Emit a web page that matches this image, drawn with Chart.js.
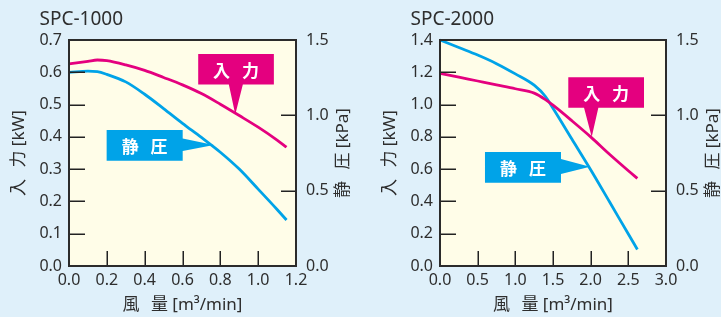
<!DOCTYPE html>
<html><head><meta charset="utf-8">
<script src="https://cdn.jsdelivr.net/npm/chart.js@4"></script>
<style>
html,body{margin:0;padding:0;background:#dff0fa;width:721px;height:317px;overflow:hidden;}
canvas{position:absolute;top:0;}
</style></head><body>
<canvas id="c1" width="360" height="317" style="left:0"></canvas>
<canvas id="c2" width="361" height="317" style="left:360px"></canvas>
<script>
// ---- SPC-1000 ----
const spc1Flow     = [0, 0.1, 0.15, 0.2, 0.3, 0.4, 0.5, 0.6, 0.7, 0.8, 0.9, 1.0, 1.1, 1.15];
const spc1Power    = [0.626, 0.634, 0.638, 0.636, 0.623, 0.606, 0.584, 0.561, 0.534, 0.501, 0.466, 0.430, 0.390, 0.368];
const spc1Pressure = [1.285, 1.293, 1.290, 1.272, 1.222, 1.140, 1.045, 0.947, 0.853, 0.755, 0.643, 0.510, 0.375, 0.305];
// ---- SPC-2000 ----
const spc2Flow     = [0, 0.25, 0.5, 0.75, 1.0, 1.25, 1.4, 1.5, 1.75, 2.0, 2.25, 2.5, 2.62];
const spc2Power    = [1.194, 1.170, 1.146, 1.122, 1.098, 1.071, 1.031, 0.996, 0.900, 0.800, 0.692, 0.590, 0.543];
const spc2Pressure = [1.500, 1.450, 1.400, 1.343, 1.275, 1.200, 1.125, 1.047, 0.843, 0.639, 0.426, 0.212, 0.110];

const titles = ['SPC-1000', 'SPC-2000'];
const powerLabel = '入\u2002\u2009力 [kW]';
const pressureLabel = '静\u2002\u2009圧 [kPa]';
const flowLabel = '風\u2002\u2009量 [m³/min]';
const powerName = '入\u2002\u2009力';
const pressureName = '静\u2002\u2009圧';

const MAGENTA = '#e4007f';
const CYAN = '#00a3e8';
const TXT = '#2e2e2e';
const FONT = "'Noto Sans', 'Noto Sans CJK JP', sans-serif";
const CJK = "'Noto Sans CJK JP', 'Noto Sans', sans-serif";

function pts(xs, ys){ return xs.map((x,i)=>({x:x, y:ys[i]})); }

const decor = {
  id: 'decor',
  beforeDraw(chart, args, o){
    const {ctx, chartArea:a} = chart;
    ctx.save();
    ctx.fillStyle = '#fffde8';
    ctx.fillRect(a.left, a.top, a.right-a.left, a.bottom-a.top);
    ctx.restore();
  },
  afterDatasetsDraw(chart, args, o){
    const ctx = chart.ctx, sx = chart.scales.x;
    (o.notes||[]).forEach(n=>{
      const sy = chart.scales[n.axis];
      const L = sx.getPixelForValue(n.x0), R = sx.getPixelForValue(n.x1);
      const T = sy.getPixelForValue(n.y0), B = sy.getPixelForValue(n.y1);
      const tx = sx.getPixelForValue(n.tip[0]), ty = sy.getPixelForValue(n.tip[1]);
      ctx.save();
      ctx.fillStyle = n.color;
      ctx.beginPath();
      if (n.pointer === 'down') {
        const b0 = sx.getPixelForValue(n.base[0]), b1 = sx.getPixelForValue(n.base[1]);
        ctx.moveTo(L,T); ctx.lineTo(R,T); ctx.lineTo(R,B); ctx.lineTo(b1,B);
        ctx.lineTo(tx,ty); ctx.lineTo(b0,B); ctx.lineTo(L,B);
      } else {
        const b0 = sy.getPixelForValue(n.base[0]), b1 = sy.getPixelForValue(n.base[1]);
        ctx.moveTo(L,T); ctx.lineTo(R,T); ctx.lineTo(R,b0); ctx.lineTo(tx,ty);
        ctx.lineTo(R,b1); ctx.lineTo(R,B); ctx.lineTo(L,B);
      }
      ctx.closePath(); ctx.fill();
      ctx.fillStyle = '#ffffff';
      ctx.font = "bold 17px " + CJK;
      ctx.textAlign = 'center'; ctx.textBaseline = 'middle';
      ctx.fillText(n.text, (L+R)/2, (T+B)/2+1);
      ctx.restore();
    });
  },
  afterDraw(chart, args, o){
    const {ctx, chartArea:a, scales} = chart;
    ctx.save();
    // inward tick marks
    ctx.strokeStyle = '#222'; ctx.lineWidth = 1.5;
    ctx.beginPath();
    scales.y.ticks.forEach(t=>{
      if (t.value <= scales.y.min+1e-9 || t.value >= scales.y.max-1e-9) return;
      const p = Math.round(scales.y.getPixelForValue(t.value))+0.25;
      ctx.moveTo(a.left, p); ctx.lineTo(a.left+16, p);
    });
    scales.y2.ticks.forEach(t=>{
      if (t.value <= scales.y2.min+1e-9 || t.value >= scales.y2.max-1e-9) return;
      const p = Math.round(scales.y2.getPixelForValue(t.value))+0.25;
      ctx.moveTo(a.right-15, p); ctx.lineTo(a.right, p);
    });
    scales.x.ticks.forEach(t=>{
      if (t.value <= scales.x.min+1e-9 || t.value >= scales.x.max-1e-9) return;
      const p = Math.round(scales.x.getPixelForValue(t.value))+0.25;
      ctx.moveTo(p, a.bottom); ctx.lineTo(p, a.bottom-15);
    });
    ctx.stroke();
    // frame
    ctx.strokeStyle = '#2b2b2b'; ctx.lineWidth = 2;
    ctx.strokeRect(a.left, a.top, a.right-a.left, a.bottom-a.top);
    // texts
    ctx.fillStyle = TXT;
    ctx.font = "19px " + FONT;
    ctx.textAlign = 'left'; ctx.textBaseline = 'alphabetic';
    ctx.fillText(o.title, a.left-29.5, 25);
    ctx.font = "17px " + FONT;
    ctx.textAlign = 'center'; ctx.textBaseline = 'middle';
    ctx.fillText(o.bottomTitle, (a.left+a.right)/2, 305);
    ctx.save();
    ctx.translate(a.left-50, (a.top+a.bottom)/2);
    ctx.rotate(-Math.PI/2);
    ctx.fillText(o.leftTitle, 0, 0);
    ctx.restore();
    ctx.save();
    ctx.translate(a.right+47, (a.top+a.bottom)/2);
    ctx.rotate(-Math.PI/2);
    ctx.fillText(o.rightTitle, 0, 0);
    ctx.restore();
    ctx.restore();
  }
};

function makeChart(id, cfg){
  const tickFont = {family: FONT, size: 16};
  const fmt = v => Number(v).toFixed(1);
  return new Chart(document.getElementById(id), {
    type: 'line',
    data: { datasets: [
      { label: powerName, data: pts(cfg.flow, cfg.power), yAxisID: 'y',
        borderColor: MAGENTA, borderWidth: 2.8, pointRadius: 0, cubicInterpolationMode: 'monotone', clip: false, fill: false },
      { label: pressureName, data: pts(cfg.flow, cfg.pressure), yAxisID: 'y2',
        borderColor: CYAN, borderWidth: 2.8, pointRadius: 0, cubicInterpolationMode: 'monotone', clip: false, fill: false }
    ]},
    plugins: [decor],
    options: {
      responsive: false, animation: false, devicePixelRatio: 1,
      layout: { padding: { top: 40, left: 0, right: 0, bottom: 0 } },
      plugins: {
        legend: { display: false }, tooltip: { enabled: false },
        decor: { title: cfg.title, leftTitle: powerLabel, rightTitle: pressureLabel, bottomTitle: flowLabel, notes: cfg.notes }
      },
      scales: {
        x: { type: 'linear', min: 0, max: cfg.xMax,
             ticks: { stepSize: cfg.xStep, callback: fmt, font: tickFont, color: TXT, padding: 5, maxRotation: 0, autoSkip: false },
             grid: { display: false, drawTicks: false }, border: { display: false },
             afterFit: s => { s.height = 51; } },
        y: { type: 'linear', position: 'left', min: 0, max: cfg.yMax,
             ticks: { stepSize: cfg.yStep, callback: fmt, font: tickFont, color: TXT, padding: 7, autoSkip: false },
             grid: { display: false, drawTicks: false }, border: { display: false },
             afterFit: s => { s.width = cfg.leftW; } },
        y2: { type: 'linear', position: 'right', min: 0, max: 1.5,
             ticks: { stepSize: 0.5, callback: fmt, font: tickFont, color: TXT, padding: 10, autoSkip: false },
             grid: { display: false, drawTicks: false }, border: { display: false },
             afterFit: s => { s.width = cfg.rightW; } }
      }
    }
  });
}

makeChart('c1', {
  title: titles[0], flow: spc1Flow, power: spc1Power, pressure: spc1Pressure,
  xMax: 1.2, xStep: 0.2, yMax: 0.7, yStep: 0.1, leftW: 69, rightW: 64,
  notes: [
    { text: powerName, color: MAGENTA, axis: 'y', x0: 0.683, x1: 1.083, y0: 0.657, y1: 0.562,
      pointer: 'down', base: [0.845, 0.919], tip: [0.879, 0.469] },
    { text: pressureName, color: CYAN, axis: 'y2', x0: 0.199, x1: 0.601, y0: 0.902, y1: 0.699,
      pointer: 'right', base: [0.846, 0.763], tip: [0.766, 0.803] }
  ]
});
makeChart('c2', {
  title: titles[1], flow: spc2Flow, power: spc2Power, pressure: spc2Pressure,
  xMax: 3.0, xStep: 0.5, yMax: 1.4, yStep: 0.2, leftW: 80, rightW: 55,
  notes: [
    { text: powerName, color: MAGENTA, axis: 'y', x0: 1.703, x1: 2.708, y0: 1.169, y1: 0.981,
      pointer: 'down', base: [1.912, 2.102], tip: [2.014, 0.799] },
    { text: pressureName, color: CYAN, axis: 'y2', x0: 0.597, x1: 1.606, y0: 0.757, y1: 0.553,
      pointer: 'right', base: [0.710, 0.611], tip: [1.991, 0.659] }
  ]
});
</script>
</body></html>
